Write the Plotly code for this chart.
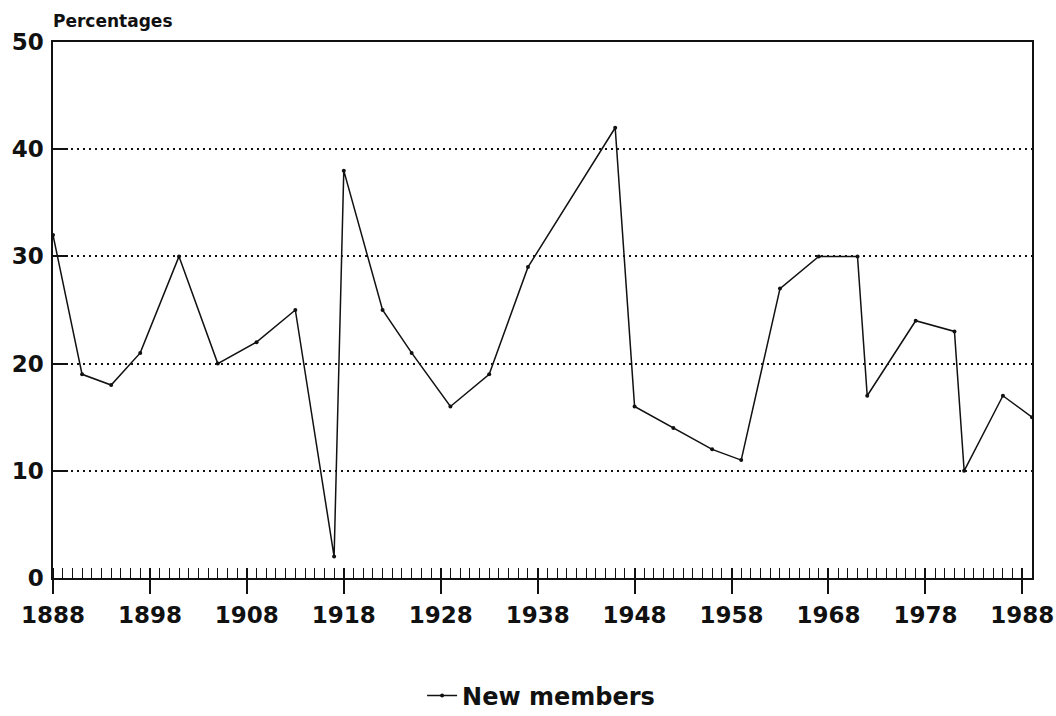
import plotly.graph_objects as go

# Data
years = [1888, 1891, 1894, 1897, 1901, 1905, 1909, 1913, 1917, 1918,
         1922, 1925, 1929, 1933, 1937, 1946, 1948, 1952, 1956, 1959,
         1963, 1967, 1971, 1972, 1977, 1981, 1982, 1986, 1989]
new_members = [32, 19, 18, 21, 30, 20, 22, 25, 2, 38,
               25, 21, 16, 19, 29, 42, 16, 14, 12, 11,
               27, 30, 30, 17, 24, 23, 10, 17, 15]
series_name = "New members"
y_title = "Percentages"

FONT = "DejaVu Sans"
INK = "#111111"
X_RANGE = [1888, 1989]

fig = go.Figure()
fig.add_trace(go.Scatter(
    x=years, y=new_members, name=series_name,
    mode="lines+markers",
    line=dict(color=INK, width=1.5),
    marker=dict(color=INK, size=4),
))
# empty helper trace so the overlay axis (inner half of major ticks) is drawn
fig.add_trace(go.Scatter(x=[None], y=[None], xaxis="x2", yaxis="y",
                         showlegend=False, hoverinfo="skip", mode="lines"))

fig.update_layout(
    width=1056, height=716,
    margin=dict(l=53, r=24, t=42, b=138, autoexpand=False),
    paper_bgcolor="white", plot_bgcolor="white",
    font=dict(family=FONT, color=INK),
    showlegend=True,
    legend=dict(orientation="h", x=0.377, xanchor="left", y=-0.22, yanchor="middle",
                font=dict(family=FONT, size=24, weight="bold", color=INK),
                bgcolor="rgba(0,0,0,0)"),
    xaxis=dict(
        range=X_RANGE, tick0=1888, dtick=10, tickformat="d",
        ticks="outside", ticklen=14, tickwidth=1.5, tickcolor=INK,
        showline=True, linewidth=1.5, linecolor=INK, mirror=True,
        showgrid=False, zeroline=False, automargin=False,
        ticklabelstandoff=2,
        tickfont=dict(family=FONT, size=23, weight="bold", color=INK),
        minor=dict(ticks="inside", ticklen=10, tickwidth=1.2, tickcolor=INK,
                   dtick=1, tick0=1888, showgrid=False),
    ),
    xaxis2=dict(
        overlaying="x", side="bottom", range=X_RANGE, tick0=1888, dtick=10,
        ticks="inside", ticklen=10, tickwidth=1.5, tickcolor=INK,
        showticklabels=False, showline=False, showgrid=False, zeroline=False,
        automargin=False, fixedrange=True,
    ),
    yaxis=dict(
        range=[0, 50], tick0=0, dtick=10,
        ticks="inside", ticklen=15, tickwidth=1.5, tickcolor=INK,
        showline=True, linewidth=1.5, linecolor=INK, mirror=True,
        showgrid=True, gridcolor=INK, gridwidth=1.5, griddash="2px,4px",
        zeroline=False, automargin=False,
        ticklabelstandoff=3,
        tickfont=dict(family=FONT, size=23, weight="bold", color=INK),
    ),
    annotations=[dict(
        text=y_title, xref="paper", yref="paper", x=0, y=1,
        xanchor="left", yanchor="bottom", yshift=9, xshift=-2, showarrow=False,
        font=dict(family=FONT, size=17, weight="bold", color=INK),
    )],
)

fig.write_html("out.html", config={"displayModeBar": False},
               post_script="document.body.style.margin='0';")
